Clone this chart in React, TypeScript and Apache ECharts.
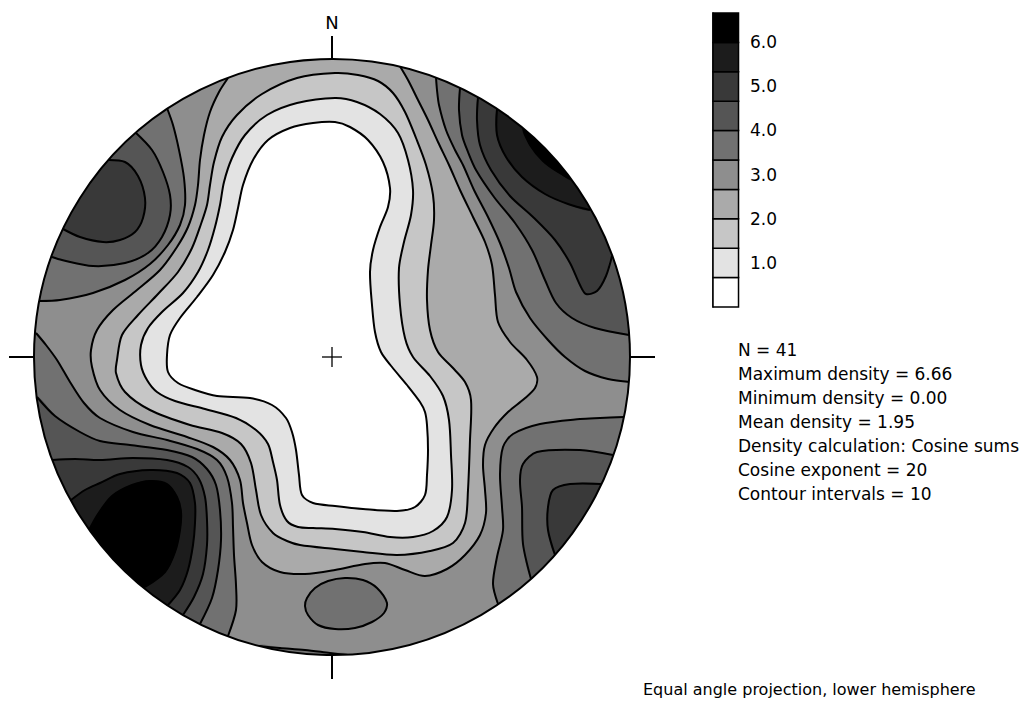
import React, { useEffect, useRef } from "react";
import * as echarts from "echarts";

// ---------- projection & density settings ----------
const PRIMITIVE_RADIUS = 298; // radius of the primitive circle, projection units
const densityLevels = [0, 0.666, 1.332, 1.998, 2.664, 3.33, 3.996, 4.662, 5.328, 5.994, 6.66];
const levelColors = [
  "#ffffff", "#e3e3e3", "#c6c6c6", "#aaaaaa", "#8e8e8e",
  "#717171", "#555555", "#393939", "#1c1c1c", "#000000",
];
const colorbarTicks = [1, 2, 3, 4, 5, 6];
const statLines = [
  "N = 41",
  "Maximum density = 6.66",
  "Minimum density = 0.00",
  "Mean density = 1.95",
  "Density calculation: Cosine sums",
  "Cosine exponent = 20",
  "Contour intervals = 10",
];
const captionText = "Equal angle projection, lower hemisphere";
const northText = "N";

// ---------- contour lines (x = east, y = north, projection units) ----------
// closed lines around the central low
const lineInner1 = [[-19,234],[3,235],[18,230],[36,217],[51,195],[58,169],[56,150],[48,130],[41,107],[38,85],[40,52],[43,25],[49,5],[60,-10],[75,-28],[88,-45],[93,-55],[95,-68],[96,-93],[95,-118],[93,-138],[83,-150],[65,-154],[31,-152],[3,-149],[-19,-146],[-30,-138],[-33,-118],[-36,-93],[-40,-75],[-46,-61],[-60,-48],[-82,-41],[-115,-39],[-137,-33],[-154,-26],[-164,-15],[-165,2],[-162,22],[-152,39],[-135,60],[-119,82],[-107,105],[-99,127],[-94,149],[-89,172],[-79,197],[-64,217],[-42,229]];
const lineInner2 = [[-35,254],[3,259],[25,255],[48,243],[66,224],[76,197],[81,167],[79,142],[72,115],[67,89],[68,52],[73,19],[81,0],[98,-19],[111,-39],[117,-63],[119,-98],[120,-133],[115,-160],[101,-174],[81,-180],[58,-180],[31,-175],[3,-172],[-19,-171],[-34,-170],[-45,-164],[-52,-148],[-55,-123],[-59,-105],[-64,-87],[-76,-73],[-96,-61],[-127,-52],[-157,-44],[-175,-35],[-185,-23],[-191,-8],[-191,12],[-184,29],[-170,45],[-149,64],[-134,85],[-124,107],[-117,130],[-112,152],[-108,175],[-100,199],[-87,222],[-65,242]];
const lineInner3 = [[-35,279],[3,284],[26,282],[46,276],[61,264],[73,245],[84,219],[94,192],[101,162],[102,137],[99,112],[96,87],[95,57],[98,27],[106,5],[120,-10],[133,-25],[139,-43],[138,-83],[136,-133],[133,-166],[121,-186],[98,-194],[65,-198],[31,-195],[3,-192],[-32,-188],[-45,-184],[-59,-176],[-71,-158],[-76,-133],[-81,-106],[-91,-87],[-110,-76],[-142,-68],[-182,-53],[-207,-35],[-216,-16],[-215,-3],[-210,22],[-194,42],[-174,63],[-154,85],[-140,109],[-131,133],[-125,152],[-122,172],[-118,195],[-110,220],[-95,242],[-70,263]];
// open line (both ends on the primitive), low side contains the north rim
const lineOuter4 = [[-104,279],[-113,265],[-122,245],[-128,222],[-132,197],[-134,172],[-137,152],[-144,130],[-155,110],[-172,87],[-195,67],[-219,47],[-235,27],[-241,7],[-240,-10],[-232,-33],[-212,-53],[-182,-68],[-145,-80],[-119,-90],[-102,-103],[-92,-123],[-89,-146],[-85,-166],[-80,-188],[-70,-205],[-52,-215],[-27,-217],[3,-213],[33,-207],[53,-206],[73,-213],[93,-219],[115,-212],[133,-198],[148,-178],[154,-156],[153,-133],[151,-108],[153,-88],[162,-71],[176,-55],[192,-42],[203,-31],[205,-20],[195,-3],[178,15],[166,35],[163,62],[160,92],[153,115],[141,140],[128,167],[117,192],[106,215],[96,237],[86,257],[76,277],[66,294]];
// north-west high
const lineNW5 = [[-165,249],[-159,232],[-153,207],[-148,179],[-147,152],[-152,132],[-164,112],[-182,93],[-207,77],[-239,64],[-272,57],[-293,56]];
const lineNW6 = [[-197,225],[-180,207],[-169,185],[-162,162],[-162,142],[-170,120],[-184,104],[-207,94],[-239,91],[-270,97],[-280,100]];
const lineNW7 = [[-227,197],[-207,195],[-194,181],[-187,159],[-189,139],[-197,125],[-212,117],[-229,115],[-252,120],[-269,128]];
// south-west high
const lineSW5 = [[-296,24],[-286,12],[-275,-3],[-262,-25],[-248,-46],[-232,-61],[-199,-75],[-165,-83],[-135,-92],[-115,-103],[-105,-120],[-100,-146],[-99,-170],[-98,-198],[-96,-228],[-96,-253],[-104,-279]];
const lineSW6 = [[-295,-40],[-277,-59],[-252,-75],[-232,-84],[-202,-88],[-165,-93],[-140,-100],[-125,-112],[-116,-128],[-112,-153],[-111,-183],[-114,-213],[-120,-241],[-132,-267]];
const lineSW7 = [[-280,-103],[-257,-102],[-232,-103],[-199,-101],[-165,-103],[-144,-110],[-133,-122],[-127,-140],[-125,-163],[-125,-188],[-129,-217],[-138,-240],[-149,-258]];
const lineSW8 = [[-261,-143],[-247,-133],[-232,-126],[-212,-117],[-182,-113],[-155,-116],[-142,-126],[-137,-146],[-137,-166],[-139,-188],[-144,-213],[-152,-233],[-164,-248]];
const lineSW9 = [[-243,-173],[-234,-157],[-220,-139],[-200,-128],[-182,-124],[-165,-127],[-155,-140],[-151,-155],[-152,-173],[-157,-195],[-167,-215],[-187,-230]];
// north-east high
const lineNE5 = [[104,280],[105,267],[107,252],[114,227],[123,207],[131,192],[142,167],[156,140],[168,114],[177,89],[184,65],[198,39],[216,17],[233,0],[253,-14],[276,-22],[298,-25]];
const lineNE6 = [[128,269],[127,247],[130,222],[136,205],[144,187],[162,160],[183,134],[200,107],[213,77],[224,54],[240,39],[263,29],[297,22]];
const lineNE7 = [[146,260],[145,237],[148,212],[159,187],[178,161],[201,140],[223,117],[238,94],[248,72],[254,63],[265,66],[274,81],[280,101]];
const lineNE8 = [[165,248],[165,222],[174,200],[190,180],[213,163],[236,153],[258,147]];
const lineNE9 = [[191,229],[198,212],[211,196],[226,185],[241,177]];
// south-east high
const lineSE5 = [[292,-60],[268,-61],[248,-62],[208,-67],[181,-77],[171,-90],[168,-117],[170,-150],[171,-173],[165,-200],[161,-227],[166,-247]];
const lineSE6 = [[281,-98],[248,-93],[205,-95],[191,-107],[188,-123],[190,-150],[191,-187],[199,-222]];
const lineSE7 = [[270,-127],[238,-127],[221,-133],[216,-150],[216,-173],[223,-198]];
// southern islands
const lineSouthOval = [[-25,-241],[-17,-231],[-4,-224],[13,-221],[31,-223],[45,-231],[55,-246],[52,-256],[40,-265],[23,-271],[3,-272],[-14,-268],[-24,-258],[-27,-249]];
const lineSouthRim = [[-74,-289],[-52,-291],[-27,-293],[-2,-296],[16,-298]];

// band = index of the density interval filling the region enclosed by the line
const regions = [
  { band: 3, line: lineOuter4, closed: false },
  { band: 2, line: lineInner3, closed: true },
  { band: 1, line: lineInner2, closed: true },
  { band: 0, line: lineInner1, closed: true },
  { band: 5, line: lineNW5, closed: false },
  { band: 6, line: lineNW6, closed: false },
  { band: 7, line: lineNW7, closed: false },
  { band: 5, line: lineSW5, closed: false },
  { band: 6, line: lineSW6, closed: false },
  { band: 7, line: lineSW7, closed: false },
  { band: 8, line: lineSW8, closed: false },
  { band: 9, line: lineSW9, closed: false },
  { band: 5, line: lineNE5, closed: false },
  { band: 6, line: lineNE6, closed: false },
  { band: 7, line: lineNE7, closed: false },
  { band: 8, line: lineNE8, closed: false },
  { band: 9, line: lineNE9, closed: false },
  { band: 5, line: lineSE5, closed: false },
  { band: 6, line: lineSE6, closed: false },
  { band: 7, line: lineSE7, closed: false },
  { band: 5, line: lineSouthOval, closed: true },
  { band: 5, line: lineSouthRim, closed: false },
];
const BACKGROUND_BAND = 4;

const FONT = '"DejaVu Sans", Verdana, sans-serif';
const SMOOTH = 0.3;

// close an open contour along the outside of the primitive circle (shorter way round)
function closeAlongRim(line: number[][], rimRadius: number): number[][] {
  const first = line[0];
  const last = line[line.length - 1];
  const a0 = Math.atan2(last[1], last[0]);
  const a1 = Math.atan2(first[1], first[0]);
  let d = a1 - a0;
  while (d > Math.PI) d -= 2 * Math.PI;
  while (d < -Math.PI) d += 2 * Math.PI;
  const steps = Math.max(2, Math.ceil(Math.abs(d) / (Math.PI / 36)));
  const pts = line.slice();
  for (let i = 0; i <= steps; i++) {
    const a = a0 + (d * i) / steps;
    pts.push([rimRadius * Math.cos(a), rimRadius * Math.sin(a)]);
  }
  return pts;
}

export default function App() {
  const ref = useRef<HTMLDivElement>(null);

  useEffect(() => {
    if (!ref.current) return;
    const chart = echarts.init(ref.current, null, { renderer: "svg" });
    const regionData = regions.map((_, i) => [0, 0, i]);
    const cellData = levelColors.map((_, i) => [0, 0, i]);
    const maxDensity = densityLevels[densityLevels.length - 1];

    const option: any = {
      animation: false,
      backgroundColor: "#ffffff",
      textStyle: { fontFamily: FONT },
      grid: [
        { left: 32, top: 57, width: 600, height: 600 },
        { left: 713, top: 13, width: 29, height: 294 },
      ],
      xAxis: [
        { type: "value", gridIndex: 0, min: -300, max: 300, show: false },
        { type: "value", gridIndex: 1, min: 0, max: 1, show: false },
      ],
      yAxis: [
        { type: "value", gridIndex: 0, min: -300, max: 300, show: false },
        {
          type: "value",
          gridIndex: 1,
          min: 0,
          max: maxDensity,
          position: "right",
          axisLine: { show: true, lineStyle: { color: "#000", width: 1.5 } },
          axisTick: { show: true, inside: false, length: 6, customValues: colorbarTicks, lineStyle: { color: "#000", width: 1.5 } },
          axisLabel: {
            show: true,
            customValues: colorbarTicks,
            formatter: (v: number) => v.toFixed(1),
            color: "#000",
            fontFamily: FONT,
            fontSize: 17,
            margin: 8,
          },
          splitLine: { show: false },
        },
      ],
      series: [
        {
          // background band of the net
          type: "custom",
          xAxisIndex: 0,
          yAxisIndex: 0,
          z: 1,
          clip: false,
          silent: true,
          data: [[0, 0]],
          renderItem: (_p: any, api: any) => {
            const c = api.coord([0, 0]);
            const r = api.size([PRIMITIVE_RADIUS, 0])[0];
            return { type: "circle", shape: { cx: c[0], cy: c[1], r }, style: { fill: levelColors[BACKGROUND_BAND] } };
          },
        },
        {
          // filled density regions
          type: "custom",
          xAxisIndex: 0,
          yAxisIndex: 0,
          z: 2,
          clip: false,
          silent: true,
          data: regionData,
          renderItem: (params: any, api: any) => {
            const reg = regions[params.dataIndex];
            const ring = reg.closed ? reg.line : closeAlongRim(reg.line, PRIMITIVE_RADIUS * 1.1);
            return {
              type: "polygon",
              shape: { points: ring.map((p) => api.coord(p)), smooth: SMOOTH },
              style: { fill: levelColors[reg.band], stroke: levelColors[reg.band], lineWidth: 0.5 },
            };
          },
        },
        {
          // contour lines
          type: "custom",
          xAxisIndex: 0,
          yAxisIndex: 0,
          z: 3,
          clip: false,
          silent: true,
          data: regionData,
          renderItem: (params: any, api: any) => {
            const reg = regions[params.dataIndex];
            const pts = reg.line.map((p) => api.coord(p));
            return {
              type: reg.closed ? "polygon" : "polyline",
              shape: { points: pts, smooth: SMOOTH },
              style: { fill: "none", stroke: "#000", lineWidth: 2 },
            };
          },
        },
        {
          // mask outside the primitive circle
          type: "custom",
          xAxisIndex: 0,
          yAxisIndex: 0,
          z: 4,
          clip: false,
          silent: true,
          data: [[0, 0]],
          renderItem: (_p: any, api: any) => {
            const c = api.coord([0, 0]);
            const r = api.size([PRIMITIVE_RADIUS, 0])[0];
            return {
              type: "circle",
              shape: { cx: c[0], cy: c[1], r: r + 26 },
              style: { fill: "none", stroke: "#ffffff", lineWidth: 52 },
            };
          },
        },
        {
          // primitive circle, cardinal ticks, centre cross, north label
          type: "custom",
          xAxisIndex: 0,
          yAxisIndex: 0,
          z: 5,
          clip: false,
          silent: true,
          data: [[0, 0]],
          renderItem: (_p: any, api: any) => {
            const c = api.coord([0, 0]);
            const R = PRIMITIVE_RADIUS;
            const n0 = api.coord([0, R]);
            const n1 = api.coord([0, R + 23]);
            const s0 = api.coord([0, -R]);
            const s1 = api.coord([0, -R - 24]);
            const w0 = api.coord([-R, 0]);
            const w1 = api.coord([-R - 25, 0]);
            const e0 = api.coord([R, 0]);
            const e1 = api.coord([R + 25, 0]);
            const ch = api.size([10, 10])[0];
            const lab = api.coord([0, R + 37]);
            const ls = { stroke: "#000", lineWidth: 2 };
            return {
              type: "group",
              children: [
                { type: "circle", shape: { cx: c[0], cy: c[1], r: api.size([R, 0])[0] }, style: { fill: "none", stroke: "#000", lineWidth: 2 } },
                { type: "line", shape: { x1: n0[0], y1: n0[1], x2: n1[0], y2: n1[1] }, style: ls },
                { type: "line", shape: { x1: s0[0], y1: s0[1], x2: s1[0], y2: s1[1] }, style: ls },
                { type: "line", shape: { x1: w0[0], y1: w0[1], x2: w1[0], y2: w1[1] }, style: ls },
                { type: "line", shape: { x1: e0[0], y1: e0[1], x2: e1[0], y2: e1[1] }, style: ls },
                { type: "line", shape: { x1: c[0] - ch, y1: c[1], x2: c[0] + ch, y2: c[1] }, style: { stroke: "#000", lineWidth: 1.3 } },
                { type: "line", shape: { x1: c[0], y1: c[1] - ch, x2: c[0], y2: c[1] + ch }, style: { stroke: "#000", lineWidth: 1.3 } },
                {
                  type: "text",
                  style: {
                    text: northText, x: lab[0], y: lab[1], fill: "#000",
                    font: `18px ${FONT}`, align: "center", verticalAlign: "middle",
                    textAlign: "center", textVerticalAlign: "middle",
                  },
                },
              ],
            };
          },
        },
        {
          // colour bar cells
          type: "custom",
          xAxisIndex: 1,
          yAxisIndex: 1,
          z: 2,
          clip: false,
          silent: true,
          data: cellData,
          renderItem: (params: any, api: any) => {
            const k = params.dataIndex;
            const p0 = api.coord([0, densityLevels[k + 1]]);
            const p1 = api.coord([0.88, densityLevels[k]]);
            return {
              type: "rect",
              shape: { x: p0[0], y: p0[1], width: p1[0] - p0[0], height: p1[1] - p0[1] },
              style: { fill: levelColors[k], stroke: "#000", lineWidth: 1.5 },
            };
          },
        },
      ],
      graphic: [
        ...statLines.map((t, i) => ({
          type: "text",
          x: 738,
          y: 350 + i * 24,
          z: 10,
          style: {
            text: t, fill: "#000", font: `17px ${FONT}`,
            align: "left", verticalAlign: "middle", textAlign: "left", textVerticalAlign: "middle",
          },
        })),
        {
          type: "text",
          x: 643,
          y: 689,
          z: 10,
          style: {
            text: captionText, fill: "#000", font: `16px ${FONT}`,
            align: "left", verticalAlign: "middle", textAlign: "left", textVerticalAlign: "middle",
          },
        },
      ],
    };

    chart.setOption(option);
    return () => chart.dispose();
  }, []);

  return (
    <div
      ref={ref}
      style={{ position: "fixed", left: 0, top: 0, width: 1020, height: 713, background: "#fff" }}
    />
  );
}
